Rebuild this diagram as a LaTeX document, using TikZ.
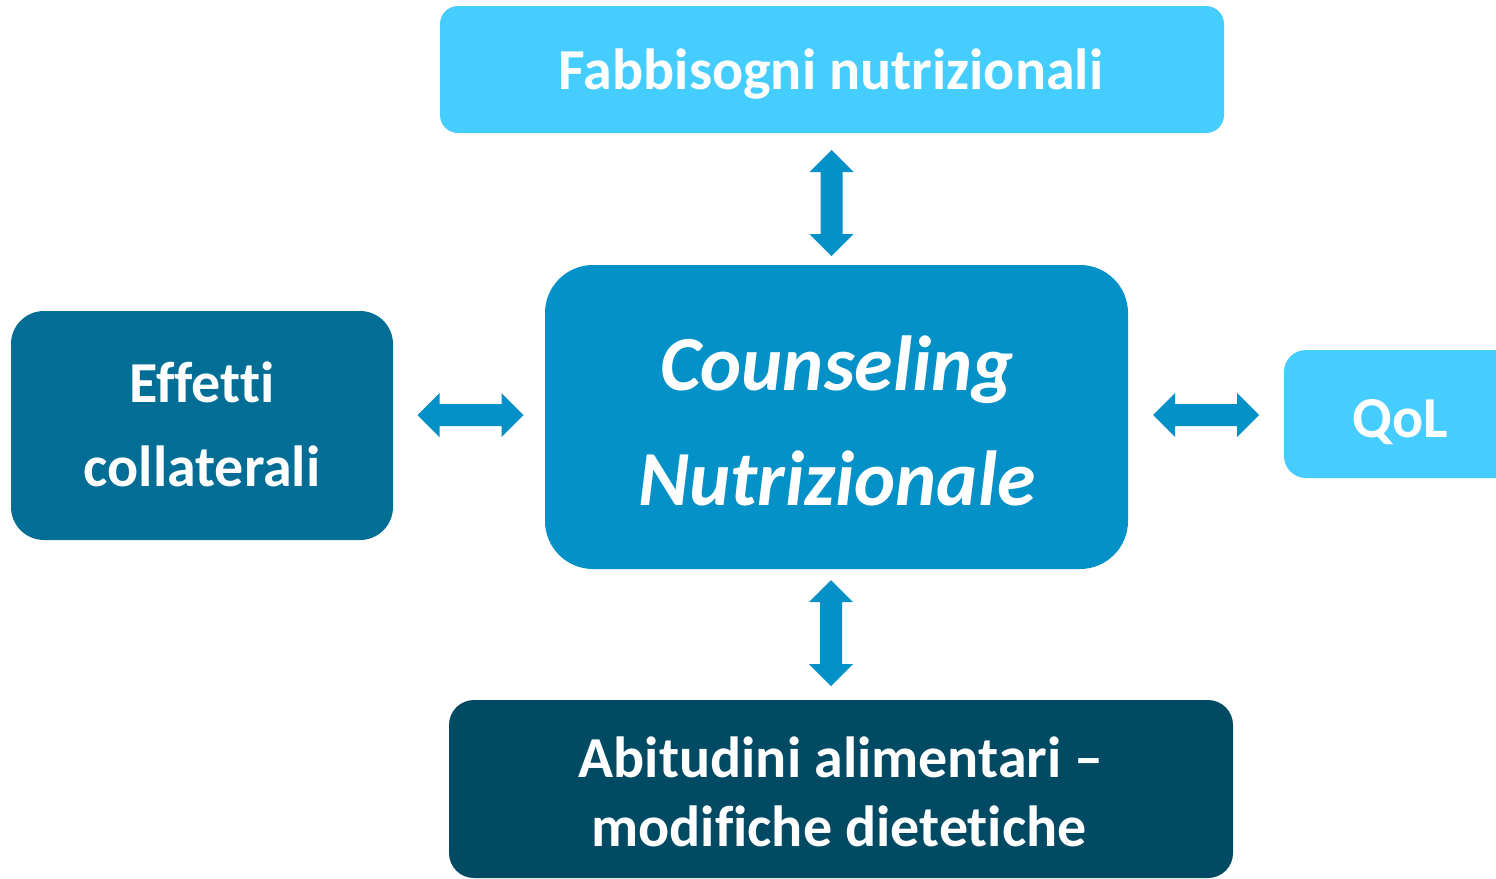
\documentclass[tikz,border=0pt]{standalone}
\usepackage{fontspec}
\setmainfont[Ligatures=NoCommon]{Carlito}
\definecolor{lightc}{HTML}{45CDFF}
\definecolor{midc}{HTML}{0391C7}
\definecolor{leftc}{HTML}{026E96}
\definecolor{darkc}{HTML}{004A63}
\tikzset{
  box/.style={rectangle, inner sep=0pt, draw=none},
  lbl/.style={anchor=base, text=white, inner sep=0pt, font=\bfseries\fontsize{29pt}{29pt}\selectfont},
  biglbl/.style={anchor=base, text=white, inner sep=0pt, font=\bfseries\itshape\fontsize{39pt}{39pt}\selectfont},
  varrow/.pic={\fill[midc] (0,-53) -- ++(22,22) -- ++(-11,0) -- ++(0,62) -- ++(11,0) -- ++(-22,22) -- ++(-22,-22) -- ++(11,0) -- ++(0,-62) -- ++(-11,0) -- cycle;},
  harrow/.pic={\fill[midc] (-53,0) -- ++(22,-22) -- ++(0,11) -- ++(62,0) -- ++(0,-11) -- ++(22,22) -- ++(-22,22) -- ++(0,-11) -- ++(-62,0) -- ++(0,11) -- cycle;}
}
\begin{document}
\begin{tikzpicture}[x=0.5pt,y=-0.5pt]
\clip (0,0) rectangle (1496,879);
\fill[white] (0,0) rectangle (1496,879);
% boxes
\node[box, fill=lightc, minimum width=392pt, minimum height=63.5pt, rounded corners=9pt] (fab) at (832,69.5) {};
\node[box, fill=midc, minimum width=291.5pt, minimum height=152pt, rounded corners=24pt] (cn) at (836.5,417) {};
\node[box, fill=leftc, minimum width=191pt, minimum height=114.5pt, rounded corners=16.5pt] (eff) at (202,425.5) {};
\node[box, fill=lightc, minimum width=130pt, minimum height=64pt, rounded corners=11pt] (qol) at (1414,414) {};
\node[box, fill=darkc, minimum width=392pt, minimum height=89pt, rounded corners=12.5pt] (abi) at (841,789) {};
% texts
\node[lbl] (tfab) at (831,89) {Fabbisogni nutrizionali};
\node[biglbl] (tc1) at (837,390) {Counseling};
\node[biglbl] (tc2) at (837,505) {Nutrizionale};
\node[lbl] (te1) at (202,402) {Effetti};
\node[lbl] (te2) at (202,486) {collaterali};
\node[lbl] (tq) at (1400,437) {QoL};
\node[lbl] (ta1) at (841,777) {Abitudini alimentari –};
\node[lbl] (ta2) at (839,846) {modifiche dietetiche};
% arrows
\pic at (831.5,203) {varrow};
\pic at (831,633) {varrow};
\pic at (470.5,415) {harrow};
\pic at (1206,415) {harrow};
\end{tikzpicture}
\end{document}
